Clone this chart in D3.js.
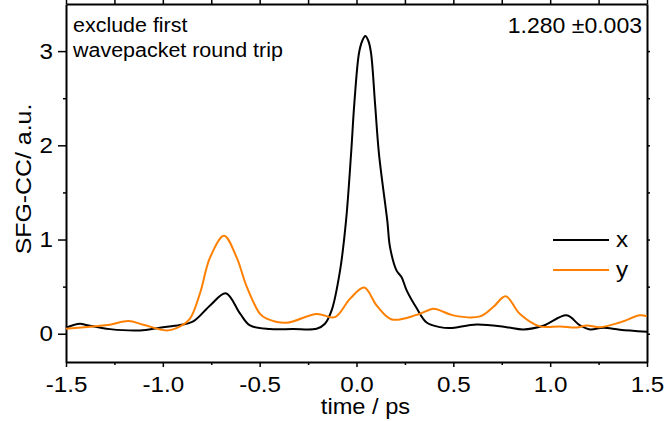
<!DOCTYPE html>
<html>
<head>
<meta charset="utf-8">
<script src="https://cdn.jsdelivr.net/npm/d3@7"></script>
<style>
    body { margin: 0; background: #fff; }
    svg { display: block; font-family: "Liberation Sans", Arial, sans-serif; }
    .axis path, .axis line { stroke: #000; }
    .axis text { fill: #000; font-size: 22px; }
</style>
</head>
<body>
<svg id="main_svg" width="667" height="421"></svg>
<script>
// series (time in ps, signal in a.u.)
const xTime = [-1.5, -1.428, -1.39, -1.273, -1.118, -1.015, -0.911, -0.843, -0.756, -0.675, -0.6, -0.55,
    -0.447, -0.33, -0.206, -0.163, -0.128, -0.085, -0.054, -0.028, -0.011, 0.013, 0.03, 0.045, 0.061,
    0.075, 0.0955, 0.116, 0.159, 0.173, 0.207, 0.233, 0.259, 0.311, 0.362, 0.431, 0.483, 0.621, 0.775,
    0.861, 0.965, 1.085, 1.154, 1.206, 1.274, 1.36, 1.5];
const xSignal = [0.064, 0.106, 0.09, 0.049, 0.035, 0.064, 0.092, 0.131, 0.3, 0.43, 0.21, 0.088,
    0.049, 0.05, 0.053, 0.106, 0.25, 0.67, 1.2, 1.91, 2.45, 2.98, 3.11, 3.16, 3.11,
    2.98, 2.45, 1.91, 1.2, 0.92, 0.67, 0.6, 0.46, 0.27, 0.12, 0.07, 0.06, 0.099, 0.07,
    0.046, 0.085, 0.195, 0.088, 0.046, 0.064, 0.043, 0.021];

const yTime = [-1.5, -1.359, -1.273, -1.178, -1.101, -0.98, -0.911, -0.86, -0.808, -0.756, -0.684,
    -0.619, -0.567, -0.498, -0.464, -0.361, -0.206, -0.111, -0.034, 0.04, 0.104, 0.182, 0.311,
    0.397, 0.431, 0.5, 0.638, 0.706, 0.77, 0.844, 0.947, 1.051, 1.137, 1.189, 1.257, 1.36, 1.464, 1.5];
const ySignal = [0.053, 0.078, 0.096, 0.134, 0.096, 0.035, 0.078, 0.16, 0.43, 0.81, 1.04,
    0.81, 0.5, 0.21, 0.16, 0.117, 0.21, 0.177, 0.37, 0.49, 0.3, 0.152, 0.2,
    0.266, 0.248, 0.195, 0.184, 0.283, 0.397, 0.21, 0.078, 0.078, 0.067, 0.088, 0.07, 0.12, 0.195, 0.184];

const xMajor = [-1.5, -1.0, -0.5, 0.0, 0.5, 1.0, 1.5];
const xMinor = [-1.25, -0.75, -0.25, 0.25, 0.75, 1.25];
const yMajor = [0, 1, 2, 3];
const yMinor = [0.5, 1.5, 2.5];

const seriesNames = ["x", "y"];
const seriesColors = ["#000000", "#ff8000"];

const svg = d3.select("svg");
const frameLeft = 66, frameRight = 647, frameTop = 4, frameBottom = 362;

const x = d3.scaleLinear().domain([-1.5, 1.5]).range([frameLeft, frameRight]);
const y = d3.scaleLinear().domain([-0.3, 3.5]).range([frameBottom, frameTop]);

const fmt = (d) => d.toFixed(1);

// the reference text is a bit wider than Liberation Sans, stretch it horizontally
function stretch(sel, k) {
    sel.each(function () {
        const w = this.getComputedTextLength();
        d3.select(this).attr("textLength", w * k).attr("lengthAdjust", "spacingAndGlyphs");
    });
}

// bottom axis, major + minor ticks outward
svg.append("g")
    .attr("class", "axis")
    .attr("transform", "translate(0," + frameBottom + ")")
    .call(d3.axisBottom(x).tickValues(xMajor).tickFormat(fmt).tickSize(5).tickSizeOuter(0).tickPadding(9))
    .call((g) => g.select(".domain").attr("stroke-width", 2))
    .call((g) => g.selectAll(".tick line").attr("stroke-width", 1.5))
    .call((g) => stretch(g.selectAll("text"), 1.1));
svg.append("g")
    .attr("class", "axis")
    .attr("transform", "translate(0," + frameBottom + ")")
    .call(d3.axisBottom(x).tickValues(xMinor).tickFormat("").tickSize(3).tickSizeOuter(0))
    .call((g) => g.select(".domain").remove())
    .call((g) => g.selectAll(".tick line").attr("stroke-width", 1.5));

// left axis
svg.append("g")
    .attr("class", "axis")
    .attr("transform", "translate(" + frameLeft + ",0)")
    .call(d3.axisLeft(y).tickValues(yMajor).tickFormat(d3.format("d")).tickSize(8).tickSizeOuter(0).tickPadding(5))
    .call((g) => g.select(".domain").attr("stroke-width", 2))
    .call((g) => g.selectAll(".tick line").attr("stroke-width", 1.5))
    .call((g) => stretch(g.selectAll("text"), 1.1));
svg.append("g")
    .attr("class", "axis")
    .attr("transform", "translate(" + frameLeft + ",0)")
    .call(d3.axisLeft(y).tickValues(yMinor).tickFormat("").tickSize(3).tickSizeOuter(0))
    .call((g) => g.select(".domain").remove())
    .call((g) => g.selectAll(".tick line").attr("stroke-width", 1.5));

// mirrored top and right axes, no labels
svg.append("g")
    .attr("class", "axis")
    .attr("transform", "translate(0," + frameTop + ")")
    .call(d3.axisTop(x).tickValues(xMajor.concat(xMinor)).tickFormat("").tickSize(4).tickSizeOuter(0))
    .call((g) => g.select(".domain").attr("stroke-width", 2))
    .call((g) => g.selectAll(".tick line").attr("stroke-width", 1.5));
svg.append("g")
    .attr("class", "axis")
    .attr("transform", "translate(" + frameRight + ",0)")
    .call(d3.axisRight(y).tickValues(yMajor.concat(yMinor)).tickFormat("").tickSize(3).tickSizeOuter(0))
    .call((g) => g.select(".domain").attr("stroke-width", 2))
    .call((g) => g.selectAll(".tick line").attr("stroke-width", 1.5));

// curves
const line = d3.line()
    .x((d) => x(d[0]))
    .y((d) => y(d[1]))
    .curve(d3.curveCatmullRom.alpha(0.5));

const series = [
    d3.zip(xTime, xSignal),
    d3.zip(yTime, ySignal),
];

svg.append("g")
    .selectAll("path")
    .data(series)
    .join("path")
    .attr("fill", "none")
    .attr("stroke", (d, i) => seriesColors[i])
    .attr("stroke-width", 2)
    .attr("stroke-linejoin", "round")
    .attr("d", line);

// legend
const legend = svg.append("g").attr("transform", "translate(553,240)");
seriesNames.forEach((name, i) => {
    legend.append("line")
        .attr("x1", 0).attr("x2", 56)
        .attr("y1", i * 30).attr("y2", i * 30)
        .attr("stroke", seriesColors[i])
        .attr("stroke-width", 2);
    legend.append("text")
        .attr("x", 63).attr("y", i * 30)
        .attr("dy", "0.32em")
        .attr("font-size", 22)
        .text(name)
        .call(stretch, 1.1);
});

// axis titles
svg.append("text")
    .attr("x", 365.5)
    .attr("y", 414)
    .attr("text-anchor", "middle")
    .attr("font-size", 21.5)
    .text("time / ps")
    .call(stretch, 1.1);

svg.append("text")
    .attr("transform", "translate(31," + 179 + ") rotate(-90)")
    .attr("text-anchor", "middle")
    .attr("font-size", 22)
    .text("SFG-CC/ a.u.")
    .call(stretch, 1.13);

// annotations
svg.append("text")
    .attr("x", 73)
    .attr("y", 32)
    .attr("font-size", 19.5)
    .text("exclude first")
    .call(stretch, 1.1);
svg.append("text")
    .attr("x", 73)
    .attr("y", 57)
    .attr("font-size", 19.5)
    .text("wavepacket round trip")
    .call(stretch, 1.1);
svg.append("text")
    .attr("x", 642)
    .attr("y", 33)
    .attr("text-anchor", "end")
    .attr("font-size", 21.5)
    .text("1.280 \u00b10.003")
    .call(stretch, 1.07);
</script>
</body>
</html>
